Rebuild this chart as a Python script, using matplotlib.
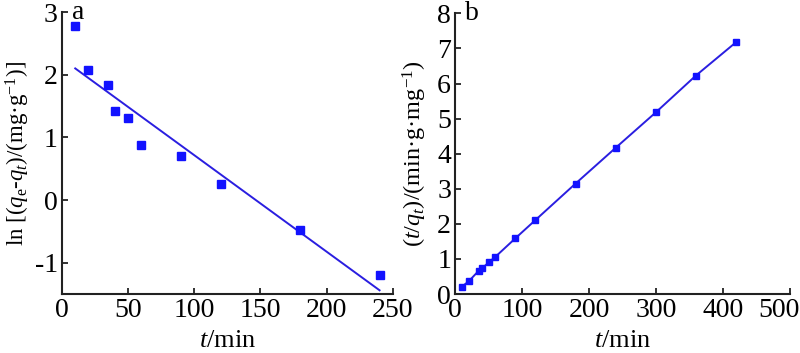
import matplotlib
matplotlib.use("Agg")
import matplotlib.pyplot as plt
from matplotlib.transforms import ScaledTranslation

plt.rcParams['font.family'] = ['Liberation Serif', 'DejaVu Serif']
plt.rcParams['mathtext.fontset'] = 'custom'
plt.rcParams['mathtext.rm'] = 'Liberation Serif'
plt.rcParams['mathtext.it'] = 'Liberation Serif:italic'
plt.rcParams['axes.unicode_minus'] = False

# Panel a: pseudo-first-order
t_a = [10, 20, 35, 40, 50, 60, 90, 120, 180, 240]
ln_a = [2.77, 2.08, 1.83, 1.42, 1.31, 0.88, 0.71, 0.255, -0.48, -1.20]
fit_t_a = [10, 240]
fit_y_a = [2.10, -1.44]

# Panel b: pseudo-second-order
t_b = [10, 20, 35, 40, 50, 60, 90, 120, 180, 240, 300, 360, 420]
tq_b = [0.21, 0.36, 0.66, 0.73, 0.90, 1.06, 1.59, 2.11, 3.15, 4.17, 5.18, 6.23, 7.18]

xticks_a = [0, 50, 100, 150, 200, 250]
yticks_a = [-1, 0, 1, 2, 3]
xticks_b = [0, 100, 200, 300, 400, 500]
yticks_b = [0, 1, 2, 3, 4, 5, 6, 7, 8]

marker_c = '#1212ff'
line_c = '#2a1ee0'
fs = 20
lfs = 19

fig = plt.figure(figsize=(8, 3.53), dpi=100)
ax1 = fig.add_axes([0.0775, 0.167, 0.4135, 0.799])
ax2 = fig.add_axes([0.569, 0.167, 0.418, 0.795])

for ax in (ax1, ax2):
    for s in ('top', 'right'):
        ax.spines[s].set_visible(False)
    for s in ('left', 'bottom'):
        ax.spines[s].set_linewidth(1.5)
        ax.spines[s].set_color('#222222')
    ax.tick_params(direction='in', length=4, width=1.3, labelsize=fs, pad=3, color='#222222')

ax1.plot(fit_t_a, fit_y_a, '-', color=line_c, lw=1.4)
ax1.plot(t_a, ln_a, 's', color=marker_c, ms=5.3, mec=marker_c)
ax1.set_xlim(0, 250)
ax1.set_ylim(-1.5, 3)
ax1.set_xticks(xticks_a)
ax1.set_yticks(yticks_a)
ax1.set_xlabel(r'$t$/min', fontsize=lfs, labelpad=5)
ax1.set_ylabel(r'ln [($q_\mathrm{e}$-$q_t$)/(mg·g$^{-1}$)]', fontsize=16.5, labelpad=2)
ax1.text(0.03, 1.0, 'a', transform=ax1.transAxes, fontsize=fs, va='center', ha='left')

ax2.plot(t_b, tq_b, '-s', color=line_c, lw=1.4, ms=4.5, mfc=marker_c, mec=marker_c)
ax2.set_xlim(0, 500)
ax2.set_ylim(0, 8)
ax2.set_xticks(xticks_b)
ax2.set_yticks(yticks_b)
ax2.set_xlabel(r'$t$/min', fontsize=lfs, labelpad=5)
ax2.set_ylabel(r'($t$/$q_t$)/(min·g·mg$^{-1}$)', fontsize=17.5, labelpad=6)
ax2.text(0.03, 1.0, 'b', transform=ax2.transAxes, fontsize=fs, va='center', ha='left')

last = ax2.get_xticklabels()[-1]
last.set_transform(last.get_transform() + ScaledTranslation(-0.11, 0, fig.dpi_scale_trans))

fig.savefig('out.png', dpi=100)
